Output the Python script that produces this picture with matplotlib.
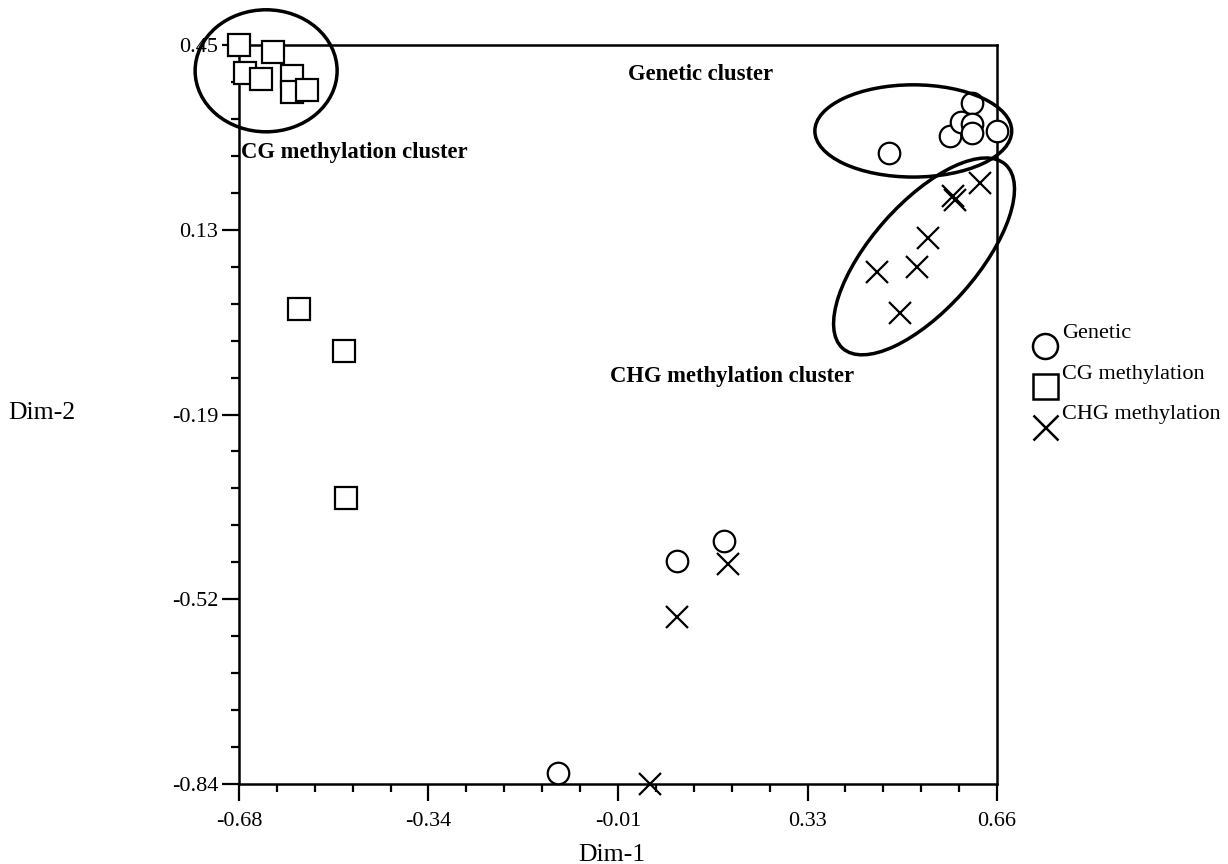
import numpy as np
import matplotlib
matplotlib.use("Agg")
import matplotlib.pyplot as plt
from matplotlib.patches import Ellipse
from matplotlib.ticker import AutoMinorLocator

plt.rcParams['font.family'] = ['Liberation Serif', 'DejaVu Serif']

# Genetic (circles)
gen_x = [0.469, 0.577, 0.596, 0.615, 0.616, 0.615, 0.660, 0.094, 0.177, -0.116]
gen_y = [0.262, 0.291, 0.316, 0.348, 0.312, 0.297, 0.300, -0.450, -0.416, -0.821]

# CG methylation (squares)
cg_x = [-0.68, -0.620, -0.669, -0.641, -0.586, -0.586, -0.560, -0.574, -0.495, -0.491]
cg_y = [0.45, 0.438, 0.401, 0.391, 0.396, 0.368, 0.371, -0.011, -0.085, -0.341]

# CHG methylation (crosses)
chg_x = [0.630, 0.582, 0.586, 0.538, 0.518, 0.447, 0.488, 0.184, 0.094, 0.047]
chg_y = [0.209, 0.186, 0.179, 0.113, 0.063, 0.054, -0.018, -0.456, -0.548, -0.84]

xticks = [-0.68, -0.345, -0.01, 0.325, 0.66]
xlabels = ["-0.68", "-0.34", "-0.01", "0.33", "0.66"]
yticks = [-0.84, -0.5175, -0.195, 0.1275, 0.45]
ylabels = ["-0.84", "-0.52", "-0.19", "0.13", "0.45"]

legend_names = ["Genetic", "CG methylation", "CHG methylation"]
cluster_names = ["Genetic cluster", "CG methylation cluster", "CHG methylation cluster"]

fig = plt.figure(figsize=(12.28, 8.64), dpi=100)
ax = fig.add_axes([0.1946, 0.0926, 0.6173, 0.8553])

ms = 15.5
ax.plot(cg_x, cg_y, 's', ms=ms, mfc='white', mec='black', mew=1.6, clip_on=False, zorder=4)
ax.plot(gen_x, gen_y, 'o', ms=ms, mfc='white', mec='black', mew=1.6, clip_on=False, zorder=4)
ax.plot(chg_x, chg_y, 'x', ms=ms, mec='black', mew=1.6, clip_on=False, zorder=4)

# cluster ellipses
ell_style = dict(fill=False, edgecolor='black', linewidth=2.5, clip_on=False, zorder=5)
ax.add_patch(Ellipse((-0.632, 0.405), 0.251, 0.213, **ell_style))
ax.add_patch(Ellipse((0.512, 0.300), 0.348, 0.161, **ell_style))
ax.add_patch(Ellipse((0.531, 0.081), 0.431, 0.186, angle=48, **ell_style))

ax.text(0.008, 0.398, cluster_names[0], fontsize=16.3, fontweight='bold', va='center')
ax.text(-0.676, 0.263, cluster_names[1], fontsize=16.3, fontweight='bold', va='center')
ax.text(-0.024, -0.128, cluster_names[2], fontsize=16.3, fontweight='bold', va='center')

ax.set_xlim(-0.68, 0.66)
ax.set_ylim(-0.84, 0.45)
ax.set_xticks(xticks)
ax.set_xticklabels(xlabels)
ax.set_yticks(yticks)
ax.set_yticklabels(ylabels)
ax.xaxis.set_minor_locator(AutoMinorLocator(5))
ax.yaxis.set_minor_locator(AutoMinorLocator(5))
ax.tick_params(which='major', direction='out', length=12, width=1.6, labelsize=16, pad=3)
ax.tick_params(axis='x', which='major', pad=8)
ax.tick_params(which='minor', direction='out', length=5.5, width=1.6)
for s in ax.spines.values():
    s.set_linewidth(1.8)

ax.set_xlabel("Dim-1", fontsize=18.5, va='center')
ax.xaxis.set_label_coords(0.492, -0.096)
ax.set_ylabel("Dim-2", fontsize=18.5, rotation=0, va='center', ha='center')
ax.yaxis.set_label_coords(-0.26, 0.502)

# legend drawn by hand: text raised above the marker
markers = ['o', 's', 'x']
leg_y = [346, 386, 427]
for name, m, py in zip(legend_names, markers, leg_y):
    fx = 1045 / 1228
    fy = 1 - py / 864
    fig.lines.append(plt.Line2D([fx], [fy], marker=m, ms=18, mfc='white', mec='black',
                                mew=1.8, linestyle='none', transform=fig.transFigure))
    fig.text(1062 / 1228, 1 - (py - 12) / 864, name, fontsize=16, va='center', ha='left')

fig.savefig("out.png", dpi=100)
